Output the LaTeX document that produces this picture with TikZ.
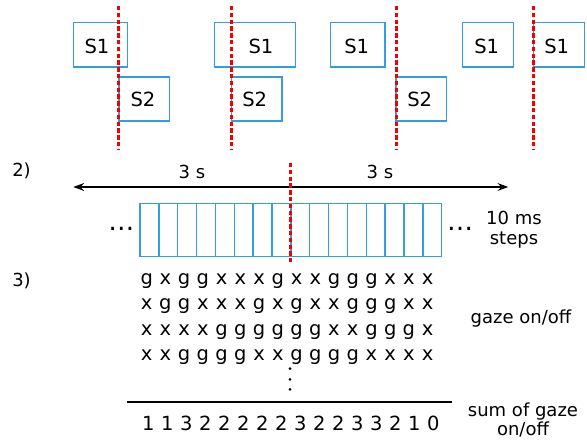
\documentclass[tikz,border=0pt]{standalone}
\usepackage{fontspec}
\setmainfont{DejaVu Sans}
\usetikzlibrary{arrows.meta}
\definecolor{boxblue}{RGB}{52,157,220}
\definecolor{cutred}{RGB}{245,0,0}
\begin{document}
\begin{tikzpicture}[x=1pt,y=-1pt,
  txt/.style={font=\fontsize{18}{21}\selectfont, inner sep=0pt, anchor=base},
  big/.style={txt, font=\fontsize{19.5}{21}\selectfont},
  dots/.style={font=\fontsize{26}{28}\selectfont, inner sep=0pt, anchor=base},
  vdot/.style={fill=black, circle, inner sep=0pt, minimum size=3pt},
  stimbox/.style={draw=boxblue, line width=1.3pt, inner sep=0pt},
  cutline/.style={draw=cutred, line width=2.7pt, dash pattern=on 4.5pt off 2.3pt},
  cell/.style={draw=boxblue, line width=1.4pt, minimum width=18.86pt, minimum height=53pt, inner sep=0pt, outer sep=0pt},
  timearrow/.style={line width=1.1pt, {Stealth[length=11pt,width=8pt,inset=4pt]}-{Stealth[length=11pt,width=8pt,inset=4pt]}},
  sumline/.style={line width=1.5pt}
  ]
\useasboundingbox (0,0) rectangle (587,441);

% ---- panel 1: stimulus boxes
\node[stimbox, minimum width=54pt, minimum height=44.3pt] (s1a) at (100.7,44.85) {};
\node[stimbox, minimum width=50.3pt, minimum height=44pt] (s2a) at (144.15,99) {};
\node[stimbox, minimum width=81pt, minimum height=44.3pt] (s1b) at (254.8,44.85) {};
\node[stimbox, minimum width=50.3pt, minimum height=44pt] (s2b) at (256.85,99) {};
\node[stimbox, minimum width=54.3pt, minimum height=44.3pt] (s1c) at (357.85,44.85) {};
\node[stimbox, minimum width=50.3pt, minimum height=44pt] (s2c) at (421.15,99) {};
\node[stimbox, minimum width=51.4pt, minimum height=44.3pt] (s1d) at (488,44.85) {};
\node[stimbox, minimum width=50.6pt, minimum height=44.3pt] (s1e) at (559,44.85) {};

\node[big] (t1a) at (97,53.3) {S1};
\node[big] (t2a) at (143,106.7) {S2};
\node[big] (t1b) at (261,53.3) {S1};
\node[big] (t2b) at (254.7,106.7) {S2};
\node[big] (t1c) at (356.7,53.3) {S1};
\node[big] (t2c) at (419.7,106.7) {S2};
\node[big] (t1d) at (486.7,53.3) {S1};
\node[big] (t1e) at (556.7,53.3) {S1};

\coordinate (c1t) at (118.7,6);  \coordinate (c1b) at (118.7,149);
\coordinate (c2t) at (231.3,6);  \coordinate (c2b) at (231.3,149);
\coordinate (c3t) at (396.3,6);  \coordinate (c3b) at (396.3,149);
\coordinate (c4t) at (533.7,6);  \coordinate (c4b) at (533.7,149);
\draw[cutline] (c1t) -- (c1b);
\draw[cutline] (c2t) -- (c2b);
\draw[cutline] (c3t) -- (c3b);
\draw[cutline] (c4t) -- (c4b);

% ---- panel 2
\node[txt] (lab2) at (21.5,177) {2)};
\node[txt] (ls) at (192,179) {3 s};
\node[txt] (rs) at (380,179) {3 s};
\coordinate (al) at (73.3,187);
\coordinate (ar) at (508.3,187);
\draw[timearrow] (al) -- (ar);

\foreach \i in {0,...,15}
  \node[cell] (cell\i) at ({149.43+18.86*\i},230.2) {};

\node[dots] (dl) at (121.3,231) {…};
\node[dots] (dr) at (460,231) {…};
\node[txt, align=center, font=\fontsize{18}{19.5}\selectfont] (steps) at (514,244) {10 ms\\steps};

\coordinate (mt) at (290.7,163);
\coordinate (mb) at (290.7,262);
\draw[cutline] (mt) -- (mb);

% ---- panel 3
\node[txt] (lab3) at (21.5,286) {3)};
\foreach \c [count=\i from 0] in {g,x,g,g,x,x,x,g,x,x,g,g,g,x,x,x}
  \node[big] (ra\i) at ({146.7+18.73*\i},284) {\c};
\foreach \c [count=\i from 0] in {x,g,g,x,x,x,g,x,g,x,x,g,g,g,x,x}
  \node[big] (rb\i) at ({146.7+18.73*\i},309.5) {\c};
\foreach \c [count=\i from 0] in {x,x,x,x,g,g,g,g,g,g,x,x,g,g,g,x}
  \node[big] (rc\i) at ({146.7+18.73*\i},335) {\c};
\foreach \c [count=\i from 0] in {x,x,g,g,g,g,x,x,g,g,g,g,x,x,x,x}
  \node[big] (rd\i) at ({146.7+18.73*\i},360) {\c};

\node[vdot] (vd1) at (290,368.7) {};
\node[vdot] (vd2) at (290,379.3) {};
\node[vdot] (vd3) at (290,389.3) {};

\node[txt] (gaze) at (521,323) {gaze on/off};

\coordinate (sl) at (127.3,402);
\coordinate (sr) at (451.7,402);
\draw[sumline] (sl) -- (sr);

\foreach \d [count=\i from 0] in {1,1,3,2,2,2,2,2,3,2,2,3,3,2,1,0}
  \node[big] (sum\i) at ({148.3+19.0*\i},430) {\d};

\node[txt, align=center, font=\fontsize{18}{17}\selectfont] (sumlab) at (523,435) {sum of gaze\\on/off};
\end{tikzpicture}
\end{document}
